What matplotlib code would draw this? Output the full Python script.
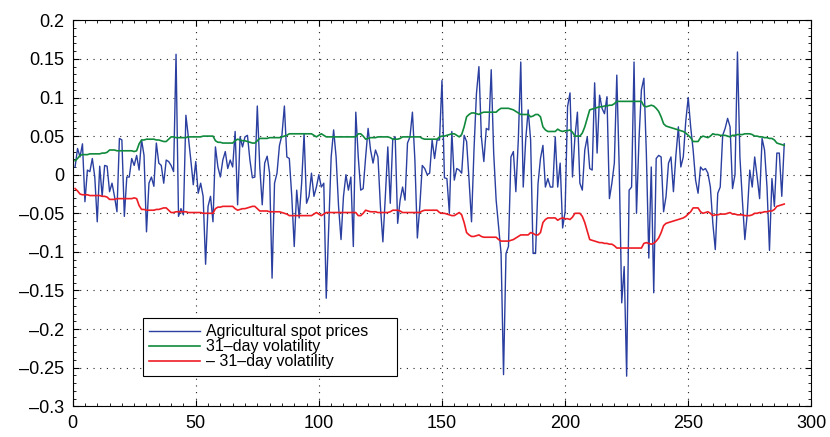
import matplotlib
matplotlib.use("Agg")
import matplotlib.pyplot as plt
from matplotlib.ticker import MultipleLocator
import numpy as np

plt.rcParams['font.family'] = ['Liberation Sans', 'DejaVu Sans']
plt.rcParams['axes.unicode_minus'] = False

# daily returns of the agricultural spot price index
spot = [
    0.010, 0.034, 0.023, 0.040, -0.035, 0.006, 0.004, 0.021, -0.003, -0.061,
    0.011, -0.028, 0.012, 0.011, -0.022, -0.011, -0.028, -0.048, 0.047, 0.045,
    -0.054, -0.003, -0.003, 0.021, 0.012, 0.025, 0.006, 0.045, 0.025, -0.074,
    -0.011, -0.003, -0.015, 0.041, 0.015, 0.012, -0.011, 0.019, 0.017, 0.012,
    0.004, 0.156, -0.054, -0.044, -0.052, 0.077, 0.049, 0.019, -0.013, 0.017,
    -0.024, -0.011, -0.028, -0.116, -0.041, -0.028, -0.061, 0.036, 0.010, -0.003,
    0.019, 0.030, 0.008, 0.019, 0.010, 0.056, -0.039, 0.049, 0.036, 0.049,
    0.051, 0.019, -0.004, -0.003, 0.089, 0.010, -0.039, 0.015, 0.024, 0.002,
    -0.134, -0.011, 0.002, 0.038, 0.051, 0.089, 0.023, 0.021, -0.028, -0.093,
    -0.020, -0.056, -0.011, 0.053, -0.037, -0.028, 0.002, -0.028, -0.016, 0.000,
    -0.016, -0.011, -0.160, -0.067, 0.023, 0.058, 0.023, -0.041, -0.084, -0.028,
    0.000, -0.020, -0.003, -0.093, 0.081, 0.023, -0.020, -0.018, 0.023, 0.060,
    0.032, 0.015, 0.032, 0.023, -0.041, -0.087, -0.028, 0.036, -0.037, 0.045,
    0.049, -0.063, -0.033, -0.016, -0.033, 0.041, 0.049, 0.081, 0.019, -0.082,
    -0.041, 0.012, 0.008, 0.000, 0.002, 0.045, 0.021, 0.045, 0.045, 0.122,
    -0.004, -0.005, -0.050, 0.056, -0.007, 0.008, 0.006, 0.002, 0.051, 0.043,
    -0.007, -0.061, 0.032, 0.105, 0.140, 0.049, 0.017, 0.060, 0.058, 0.136,
    0.028, -0.033, -0.067, -0.102, -0.259, -0.102, -0.093, 0.023, 0.030, -0.022,
    0.045, 0.146, -0.016, 0.045, 0.084, 0.045, -0.102, -0.102, -0.012, 0.021,
    0.038, -0.016, -0.005, -0.016, -0.016, 0.049, -0.016, 0.015, -0.069, -0.048,
    0.088, 0.106, -0.003, 0.049, 0.081, -0.011, -0.020, 0.032, 0.049, 0.008,
    0.006, 0.119, 0.028, 0.103, 0.086, 0.079, 0.101, -0.031, -0.011, 0.015,
    0.129, 0.006, -0.166, -0.119, -0.261, -0.020, -0.016, 0.146, -0.050, 0.045,
    0.110, 0.125, 0.028, -0.108, 0.010, -0.153, 0.021, 0.025, 0.023, -0.048,
    -0.028, 0.015, 0.023, -0.022, 0.025, 0.062, 0.010, 0.023, 0.069, 0.100,
    0.062, 0.032, -0.007, -0.024, 0.010, 0.006, 0.008, 0.002, -0.016, -0.063,
    -0.097, -0.024, -0.016, 0.051, 0.060, 0.073, 0.062, -0.018, 0.000, 0.159,
    0.023, -0.033, -0.084, -0.050, 0.006, -0.016, 0.023, -0.003, -0.031, 0.047,
    0.032, -0.016, -0.098, -0.005, -0.041, 0.028, 0.028, -0.028, 0.040,
]

# 31-day rolling volatility
vol31 = [
    0.018, 0.021, 0.025, 0.026, 0.026, 0.026, 0.027, 0.027, 0.027, 0.027,
    0.027, 0.028, 0.028, 0.029, 0.032, 0.032, 0.032, 0.031, 0.031, 0.031,
    0.031, 0.031, 0.031, 0.031, 0.030, 0.031, 0.040, 0.045, 0.045, 0.046,
    0.046, 0.046, 0.046, 0.045, 0.045, 0.044, 0.043, 0.043, 0.046, 0.049,
    0.049, 0.048, 0.048, 0.048, 0.048, 0.048, 0.049, 0.049, 0.049, 0.049,
    0.049, 0.049, 0.050, 0.050, 0.050, 0.050, 0.050, 0.044, 0.042, 0.042,
    0.041, 0.041, 0.041, 0.041, 0.041, 0.044, 0.046, 0.045, 0.044, 0.044,
    0.043, 0.042, 0.041, 0.041, 0.044, 0.047, 0.047, 0.047, 0.047, 0.048,
    0.048, 0.048, 0.048, 0.048, 0.049, 0.050, 0.051, 0.053, 0.053, 0.053,
    0.053, 0.053, 0.053, 0.053, 0.053, 0.053, 0.053, 0.051, 0.049, 0.051,
    0.053, 0.051, 0.049, 0.049, 0.049, 0.049, 0.049, 0.049, 0.049, 0.049,
    0.049, 0.049, 0.049, 0.049, 0.049, 0.053, 0.053, 0.050, 0.046, 0.047,
    0.048, 0.048, 0.048, 0.049, 0.049, 0.049, 0.049, 0.049, 0.048, 0.046,
    0.046, 0.046, 0.047, 0.049, 0.049, 0.049, 0.049, 0.049, 0.049, 0.049,
    0.049, 0.047, 0.046, 0.046, 0.046, 0.046, 0.046, 0.046, 0.049, 0.050,
    0.050, 0.051, 0.052, 0.053, 0.053, 0.051, 0.049, 0.052, 0.062, 0.075,
    0.078, 0.080, 0.080, 0.079, 0.078, 0.080, 0.081, 0.081, 0.081, 0.081,
    0.081, 0.081, 0.084, 0.086, 0.086, 0.086, 0.086, 0.085, 0.084, 0.082,
    0.080, 0.078, 0.078, 0.078, 0.078, 0.075, 0.076, 0.078, 0.078, 0.075,
    0.062, 0.058, 0.056, 0.056, 0.056, 0.056, 0.059, 0.057, 0.056, 0.057,
    0.057, 0.058, 0.055, 0.050, 0.050, 0.050, 0.054, 0.062, 0.073, 0.084,
    0.085, 0.086, 0.087, 0.088, 0.088, 0.089, 0.089, 0.090, 0.090, 0.092,
    0.095, 0.095, 0.095, 0.095, 0.095, 0.095, 0.095, 0.095, 0.095, 0.095,
    0.095, 0.089, 0.088, 0.089, 0.090, 0.089, 0.086, 0.082, 0.075, 0.066,
    0.063, 0.062, 0.061, 0.060, 0.059, 0.058, 0.057, 0.056, 0.054, 0.051,
    0.048, 0.043, 0.043, 0.043, 0.048, 0.050, 0.049, 0.048, 0.050, 0.053,
    0.052, 0.052, 0.051, 0.051, 0.051, 0.050, 0.049, 0.051, 0.051, 0.052,
    0.052, 0.052, 0.053, 0.053, 0.053, 0.052, 0.050, 0.050, 0.049, 0.049,
    0.048, 0.048, 0.047, 0.047, 0.045, 0.041, 0.040, 0.039, 0.038,
]

days = np.arange(1, len(spot) + 1)
vol = np.array(vol31)

x_ticks = [0, 50, 100, 150, 200, 250, 300]
y_ticks = [-0.3, -0.25, -0.2, -0.15, -0.1, -0.05, 0, 0.05, 0.1, 0.15, 0.2]
y_labels = ['–0.3', '–0.25', '–0.2', '–0.15', '–0.1', '–0.05', '0',
            '0.05', '0.1', '0.15', '0.2']

fig = plt.figure(figsize=(8.30, 4.37), dpi=100)
ax = fig.add_axes([0.0875, 0.0703, 0.890, 0.8832])

# trailing spaces give the legend box its extra room on the right
ax.plot(days, spot, color='#2a3fa0', lw=1.0, label='Agricultural spot prices     ')
ax.plot(days, vol, color='#108a3c', lw=1.2, label='31–day volatility')
ax.plot(days, -vol, color='#ee1c24', lw=1.2, label='– 31–day volatility')

ax.set_xlim(0, 300)
ax.set_ylim(-0.3, 0.2)
ax.set_xticks(x_ticks)
ax.set_xticklabels([str(v) for v in x_ticks])
ax.set_yticks(y_ticks)
ax.set_yticklabels(y_labels)
ax.xaxis.set_minor_locator(MultipleLocator(5))
ax.yaxis.set_minor_locator(MultipleLocator(0.01))
ax.tick_params(which='major', direction='in', top=True, right=True, length=4,
               labelsize=13, pad=6)
ax.tick_params(which='minor', direction='in', top=True, right=True, length=2,
               width=0.6)
ax.grid(True, which='major', linestyle=(0, (1, 5)), color='#222222', lw=0.8)
for s in ax.spines.values():
    s.set_linewidth(0.8)

leg = ax.legend(loc='upper left', bbox_to_anchor=(0.095, 0.229), fontsize=11.5,
                frameon=True, fancybox=False, framealpha=1, edgecolor='black',
                handlelength=3.2, borderpad=0.4, labelspacing=0.0,
                handletextpad=0.35, borderaxespad=0)
leg.get_frame().set_linewidth(0.8)

fig.savefig('out.png', dpi=100)
